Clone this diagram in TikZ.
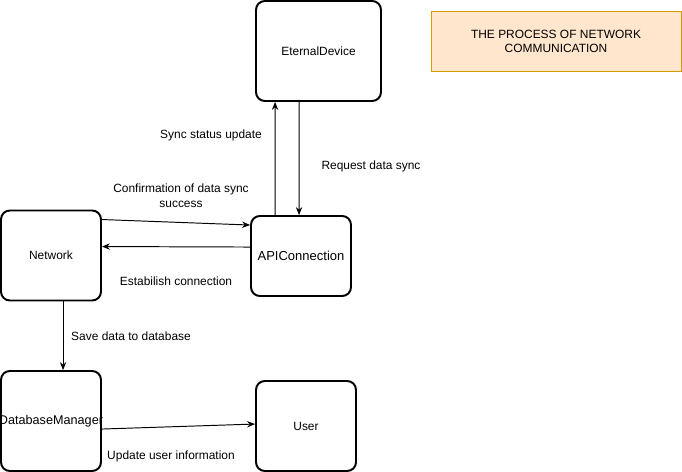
\documentclass[tikz,border=0pt]{standalone}
\usepackage{fontspec}
\setmainfont{Liberation Sans}
\usetikzlibrary{arrows.meta,calc}

\definecolor{titlefill}{HTML}{FFE6CC}
\definecolor{titledraw}{HTML}{D79B00}

\tikzset{
  block/.style={draw, line width=1.1pt, rounded corners=5pt, inner sep=0pt,
    minimum width=2cm, minimum height=1.8cm, align=center, font=\fontsize{6.8}{8}\selectfont},
  bigtext/.style={font=\fontsize{7.4}{9}\selectfont},
  lbl/.style={align=center, font=\fontsize{6.8}{8.4}\selectfont},
  arr/.style={-{Stealth[length=4.5pt,width=3.6pt]}, line width=0.55pt}
}

\begin{document}
\begin{tikzpicture}[x=0.02cm, y=-0.02cm]
    \useasboundingbox (0,0) rectangle (682,472);
    % Title
    \node[draw=titledraw, fill=titlefill, line width=0.5pt, minimum width=5cm, minimum height=1.2cm,
      align=center, font=\fontsize{6.8}{8}\selectfont] (title) at (556,41)
      {THE PROCESS OF NETWORK\\COMMUNICATION};
    % Boxes
    \node[block, minimum width=2.5cm, minimum height=2cm] (eternal) at (318.5,51) {EternalDevice};
    \node[block] (network) at (51,255.5) {Network};
    \node[block, bigtext, minimum height=1.6cm] (api) at (301,256) {APIConnection};
    \node[block, minimum height=2cm] (dbm) at (51,421)
      {\makebox[1.9cm][c]{\fontsize{7.2}{9}\selectfont DatabaseManager}};
    \node[block] (user) at (306,426) {User};
    % Sync between device and API
    \draw[arr] ($(api.north west)+(25,0)$) -- ($(eternal.south west)+(20,0)$);
    \node[lbl] (syncup) at (211,135) {Sync status update};
    \draw[arr] ($(eternal.south west)+(44,-2)$) -- ($(api.north west)+(49,0)$);
    \node[lbl] (request) at (371,166) {Request data sync};
    % Network and API
    \draw[arr] ($(network.north east)+(0,10)$) -- ($(api.north west)+(0,10)$);
    \node[lbl] (confirm) at (181,196) {Confirmation of data sync\\success};
    \draw[arr] ($(api.north west)+(0,32)$) -- ($(network.north east)+(0,37)$);
    \node[lbl] (connect) at (176,281) {Estabilish connection};
    % Database
    \draw[arr] ($(network.south west)+(63,0)$) -- ($(dbm.north west)+(63,0)$);
    \node[lbl] (save) at (131,336) {Save data to database};
    \draw[arr] ($(dbm.north east)+(0,59)$) -- ($(user.north west)+(0,44)$);
    \node[lbl] (update) at (171,456) {Update user information};
\end{tikzpicture}
\end{document}
